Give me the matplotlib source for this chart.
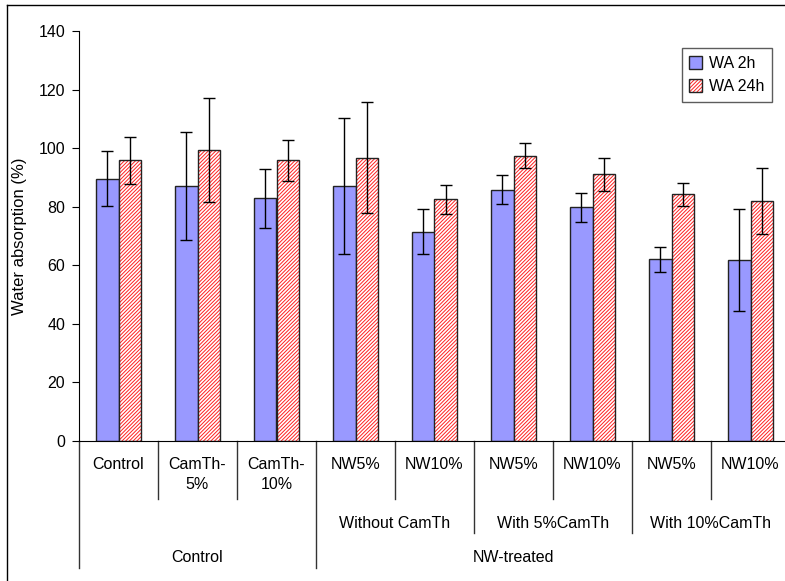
import matplotlib
matplotlib.use('Agg')
import matplotlib.pyplot as plt
from matplotlib.patches import Patch
from matplotlib.lines import Line2D
from matplotlib.transforms import blended_transform_factory
import numpy as np

plt.rcParams['font.family'] = ['Liberation Sans', 'DejaVu Sans']
plt.rcParams['hatch.linewidth'] = 0.7

# --- Data ---
level1 = ['Control', 'CamTh-\n5%', 'CamTh-\n10%', 'NW5%', 'NW10%', 'NW5%', 'NW10%', 'NW5%', 'NW10%']
level2 = ['Without CamTh', 'With 5%CamTh', 'With 10%CamTh']
level3 = ['Control', 'NW-treated']

wa_2h = [89.6, 87.0, 82.9, 87.0, 71.5, 85.8, 79.8, 62.0, 61.7]
err_2h = [9.3, 18.5, 10.0, 23.3, 7.6, 4.9, 4.9, 4.2, 17.4]
wa_24h = [95.9, 99.4, 95.9, 96.7, 82.5, 97.4, 91.1, 84.2, 82.0]
err_24h = [8.0, 17.8, 7.0, 19.0, 5.0, 4.2, 5.7, 3.8, 11.3]

# --- Plot ---
W, H = 785, 581
fig = plt.figure(figsize=(W / 100, H / 100), dpi=100)
ax_left, ax_right, ax_top, ax_bot = 79, 790, 31, 441
ax = fig.add_axes([ax_left / W, 1 - ax_bot / H, (ax_right - ax_left) / W, (ax_bot - ax_top) / H])

x = np.arange(len(level1))
w = 0.28
hatch = '/' * 9
ebar = dict(ecolor='black', elinewidth=1, capsize=4, capthick=1)

ax.bar(x - w / 2, wa_2h, w, color='#9999FF', edgecolor='#222222', linewidth=1,
       yerr=err_2h, error_kw=ebar, zorder=2)
ax.bar(x + w / 2, wa_24h, w, color='white', edgecolor='#FF2020', hatch=hatch,
       linewidth=0, zorder=2)
ax.bar(x + w / 2, wa_24h, w, fill=False, edgecolor='#222222', linewidth=1,
       yerr=err_24h, error_kw=ebar, zorder=3)

ax.set_xlim(-0.5, len(level1) - 0.5)
ax.set_ylim(0, 140)
ax.set_yticks(range(0, 141, 20))
ax.set_xticks([])
ax.tick_params(axis='y', direction='out', length=5, labelsize=11.5, pad=5)
ax.spines['top'].set_visible(False)
ax.spines['right'].set_visible(False)
ax.set_ylabel('Water absorption (%)', fontsize=12, labelpad=8)

# multi-level category labels
trans = blended_transform_factory(ax.transData, ax.transAxes)
span = ax_bot - ax_top


def ypos(py):
    return -(py - ax_bot) / span


for i, lab in enumerate(level1):
    ax.text(i, ypos(457), lab, transform=trans, ha='center', va='top',
            fontsize=11.5, linespacing=1.45)
for j, lab in enumerate(level2):
    ax.text(3.5 + 2 * j, ypos(523), lab, transform=trans, ha='center', va='center', fontsize=11.5)
ax.text(1, ypos(557), level3[0], transform=trans, ha='center', va='center', fontsize=11.5)
ax.text(5, ypos(557), level3[1], transform=trans, ha='center', va='center', fontsize=11.5)

sep_bottom = {0: 568, 1: 499, 2: 499, 3: 568, 4: 499, 5: 533, 6: 499, 7: 533, 8: 499}
for k, pb in sep_bottom.items():
    ax.plot([k - 0.5, k - 0.5], [0, ypos(pb)], transform=trans, color='#333333',
            linewidth=1, clip_on=False)

# legend
h1 = Patch(facecolor='#9999FF', edgecolor='#222222', linewidth=1)
h2a = Patch(facecolor='white', edgecolor='#FF2020', hatch=hatch, linewidth=0)
h2b = Patch(fill=False, edgecolor='#222222', linewidth=1)
leg = ax.legend([h1, (h2a, h2b)], ['WA 2h', 'WA 24h'], loc='upper right',
                bbox_to_anchor=((780 - ax_left) / (ax_right - ax_left), (ax_bot - 40) / span),
                fontsize=11.5, frameon=True, fancybox=False, handlelength=0.8,
                handleheight=0.8, handletextpad=0.4, borderpad=0.5, labelspacing=0.5)
leg.get_frame().set_edgecolor('#333333')
leg.get_frame().set_linewidth(1)

# chart-area border
fig.add_artist(Line2D([7 / W, 7 / W], [1 - 5 / H, 0], color='black', linewidth=1))
fig.add_artist(Line2D([7 / W, 1], [1 - 5 / H, 1 - 5 / H], color='black', linewidth=1))

fig.savefig('out.png', dpi=100)
